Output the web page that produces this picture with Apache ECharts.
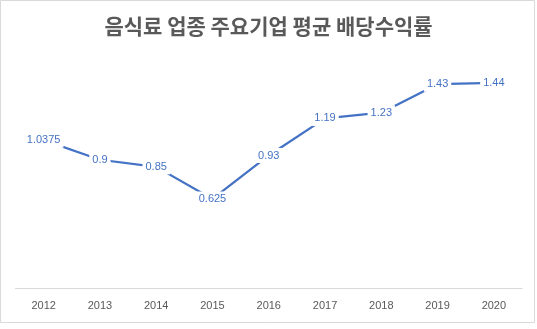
<!DOCTYPE html>
<html>
<head>
<meta charset="utf-8">
<script src="https://cdn.jsdelivr.net/npm/echarts@6/dist/echarts.min.js"></script>
<style>
  html, body { margin: 0; padding: 0; background: #fff; }
  #chart { width: 537px; height: 329px; }
</style>
</head>
<body>
<div id="chart"></div>
<script>
// Average dividend yield of major food & beverage companies, by year
const years = ['2012', '2013', '2014', '2015', '2016', '2017', '2018', '2019', '2020'];
const yieldValues = [1.0375, 0.9, 0.85, 0.625, 0.93, 1.19, 1.23, 1.43, 1.44];
const titleText = '음식료 업종 주요기업 평균 배당수익률';

const chart = echarts.init(document.getElementById('chart'), null, { renderer: 'canvas' });

chart.setOption({
  backgroundColor: '#ffffff',
  animation: false,
  title: {
    text: titleText,
    left: 'center',
    top: 11,
    textStyle: {
      fontFamily: '"Noto Sans CJK KR", sans-serif',
      fontSize: 21,
      fontWeight: 'bold',
      color: '#595959'
    }
  },
  graphic: [{
    type: 'rect',
    shape: { x: 0.5, y: 0.5, width: 534, height: 322 },
    style: { fill: 'none', stroke: '#d9d9d9', lineWidth: 1 },
    silent: true
  }],
  grid: { left: 15.5, right: 15, top: 60, bottom: 41 },
  xAxis: {
    type: 'category',
    data: years,
    boundaryGap: true,
    axisLine: { lineStyle: { color: '#d9d9d9', width: 1 } },
    axisTick: { show: false },
    axisLabel: {
      color: '#595959',
      fontFamily: '"Liberation Sans", Arial, sans-serif',
      fontSize: 11,
      margin: 12
    },
    splitLine: { show: false }
  },
  yAxis: {
    type: 'value',
    min: 0,
    max: 1.6,
    show: false,
    splitLine: { show: false }
  },
  series: [{
    type: 'line',
    data: yieldValues,
    symbol: 'circle',
    symbolSize: 2,
    itemStyle: { color: 'rgba(0,0,0,0)' },
    lineStyle: { color: '#4472C4', width: 2.25 },
    label: {
      show: true,
      position: 'inside',
      color: '#4472C4',
      fontFamily: '"Liberation Sans", Arial, sans-serif',
      fontSize: 11,
      backgroundColor: '#ffffff',
      padding: [2, 3],
      formatter: p => String(p.value)
    }
  }]
});
</script>
</body>
</html>
